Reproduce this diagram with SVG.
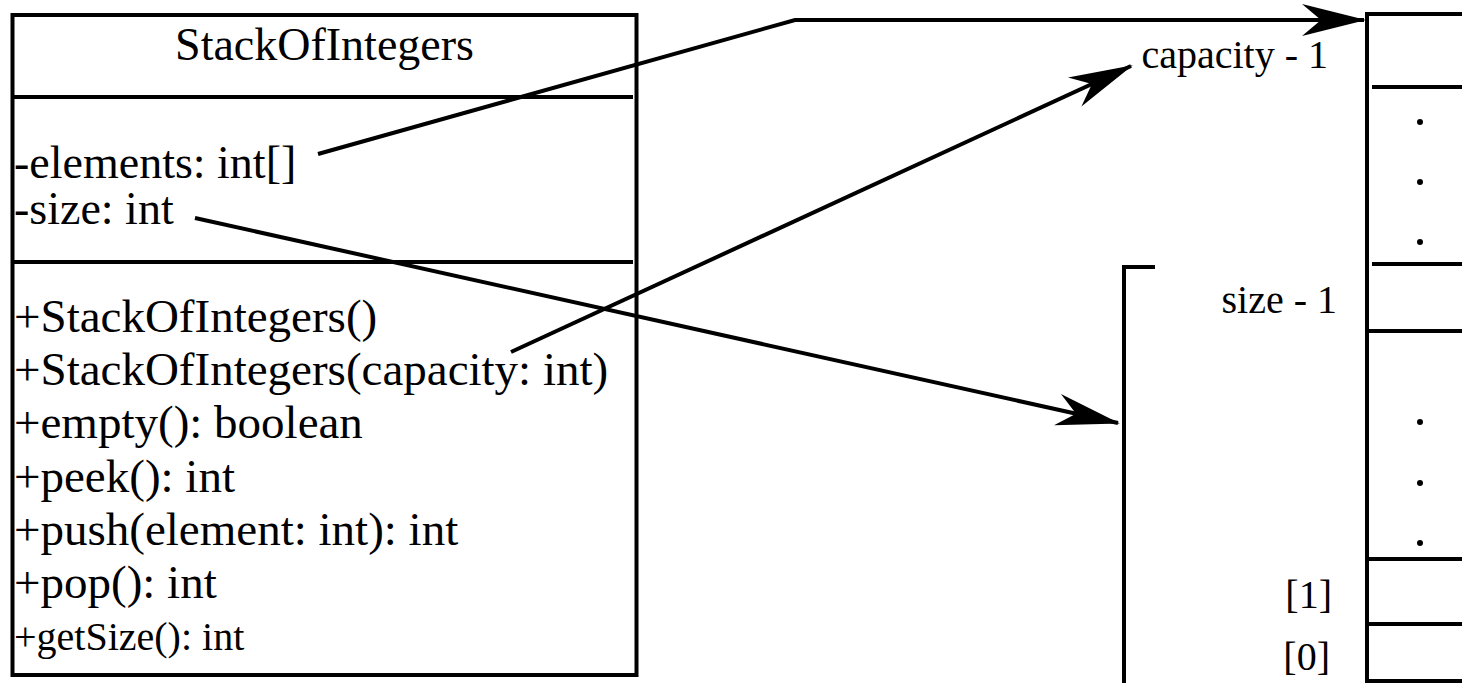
<svg xmlns="http://www.w3.org/2000/svg" width="1462" height="683" viewBox="0 0 1462 683">
<style>
text{font-family:'Liberation Serif','DejaVu Serif',serif;fill:#000}
.m{font-size:46px}
.mm{font-size:47px}
.s{font-size:40px}
.ln{stroke:#000;stroke-width:4;fill:none}
.dv{stroke:#000;stroke-width:4}
.conn{stroke:#000;stroke-width:4;fill:none;marker-end:url(#arr)}
</style>
<defs>
<marker id="arr" markerUnits="userSpaceOnUse" orient="auto" overflow="visible" markerWidth="1" markerHeight="1" refX="0" refY="0">
<path d="M2,0 L-62,-16 L-43,0 L-62,16 Z" fill="#000"/>
</marker>
</defs>
<rect width="1462" height="683" fill="#fff"/>
<g id="class-StackOfIntegers" font-family="Liberation Serif, DejaVu Serif, serif">
<rect class="ln" x="12.5" y="15" width="624" height="660"/>
<line class="dv" x1="13" y1="97" x2="633" y2="97"/>
<line class="dv" x1="13" y1="262" x2="633" y2="262"/>
<text class="m" x="324.5" y="60" text-anchor="middle">StackOfIntegers</text>
<text class="m" x="14" y="178">-elements: int[]</text>
<text class="m" x="14" y="224">-size: int</text>
<text class="mm" x="14" y="332">+StackOfIntegers()</text>
<text class="mm" x="14" y="385">+StackOfIntegers(capacity: int)</text>
<text class="mm" x="14" y="438">+empty(): boolean</text>
<text class="mm" x="14" y="492">+peek(): int</text>
<text class="mm" x="14" y="545">+push(element: int): int</text>
<text class="mm" x="14" y="598">+pop(): int</text>
<text class="s" x="14" y="650">+getSize(): int</text>
</g>
<g id="array" font-family="Liberation Serif, DejaVu Serif, serif">
<path class="ln" d="M1480,14 L1367,14 L1367,681 L1480,681"/>
<line class="dv" x1="1372" y1="87" x2="1462" y2="87"/>
<line class="dv" x1="1372" y1="264" x2="1462" y2="264"/>
<line class="dv" x1="1367" y1="331" x2="1462" y2="331"/>
<line class="dv" x1="1367" y1="559" x2="1462" y2="559"/>
<line class="dv" x1="1367" y1="624" x2="1462" y2="624"/>
<circle cx="1420" cy="122" r="3"/>
<circle cx="1420" cy="182" r="3"/>
<circle cx="1420" cy="242" r="3"/>
<circle cx="1420" cy="422" r="3"/>
<circle cx="1420" cy="483" r="3"/>
<circle cx="1420" cy="543" r="3"/>
<text class="s" x="1328" y="68" text-anchor="end">capacity - 1</text>
<text class="s" x="1337" y="313" text-anchor="end">size - 1</text>
<text class="s" x="1332" y="608" text-anchor="end">[1]</text>
<text class="s" x="1330" y="670" text-anchor="end">[0]</text>
</g>
<g id="size-bracket">
<path class="ln" d="M1155,267 L1124,267 L1124,683"/>
</g>
<g id="connectors">
<path class="conn" d="M318,154 L795,20 L1364,20"/>
<path class="conn" d="M511,352 L1131,66"/>
<path class="conn" d="M195,218 L1118,423"/>
</g>
</svg>
